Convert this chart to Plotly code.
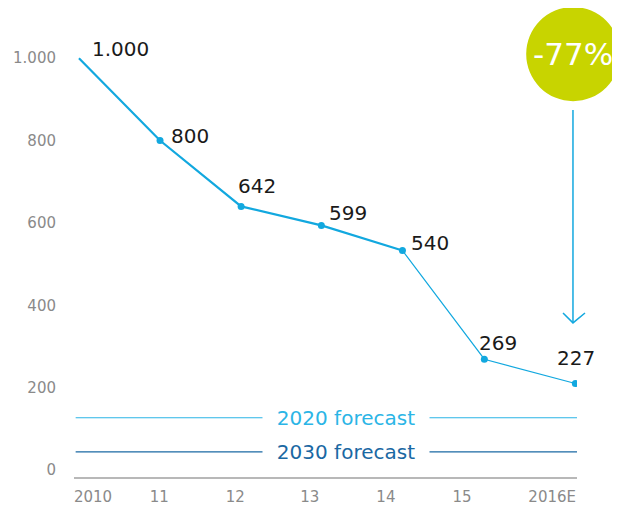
import plotly.graph_objects as go

# data
years = ["2010", "11", "12", "13", "14", "15", "2016E"]
year_pos = [0, 0.98, 1.96, 2.93, 3.91, 4.9, 6.0]  # the last step is a bit wider
values = [1000, 800, 640, 594, 533, 269, 210]
value_labels = ["1.000", "800", "642", "599", "540", "269", "227"]
tick_pos = [0.17, 0.97, 1.89, 2.79, 3.71, 4.63, 5.72]
y_ticks = [0, 200, 400, 600, 800, 1000]
y_tick_text = ["0", "200", "400", "600", "800", "1.000"]
forecasts = ["2020 forecast", "2030 forecast"]
forecast_levels = [127, 44]
reduction = "-77%"

BLUE = "#12a8df"
LIGHT_BLUE = "#2bb5e6"
DARK_BLUE = "#1a68a3"
GREEN = "#c8d400"
FONT = "DejaVu Sans"

# pixel offsets of the value labels (left edge, up from the point)
label_offsets = [(11, 9), (9, 5), (-5, 20), (6, 12), (7, 8), (-7, 16), (-20, 26)]

x = year_pos

fig = go.Figure()
# thicker line up to 2014, thinner after
fig.add_trace(
    go.Scatter(
        x=x[:5], y=values[:5], mode="lines",
        line=dict(color=BLUE, width=2.2),
        hoverinfo="skip", showlegend=False,
    )
)
fig.add_trace(
    go.Scatter(
        x=x[4:], y=values[4:], mode="lines",
        line=dict(color=BLUE, width=1.2),
        hoverinfo="skip", showlegend=False,
    )
)
fig.add_trace(
    go.Scatter(
        x=x[1:], y=values[1:], mode="markers",
        marker=dict(color=BLUE, size=7),
        hoverinfo="y", showlegend=False,
    )
)

for i, (lab, (dx, dy)) in enumerate(zip(value_labels, label_offsets)):
    fig.add_annotation(
        x=x[i], y=values[i], text=lab, showarrow=False,
        xanchor="left", yanchor="middle", xshift=dx, yshift=dy,
        font=dict(family=FONT, size=20, color="#1a1a1a"),
    )

# forecast lines, text sits on top with a white background
for name, level, col in zip(forecasts, forecast_levels, [LIGHT_BLUE, DARK_BLUE]):
    fig.add_shape(type="line", xref="x", yref="y", x0=-0.04, x1=6.05, y0=level, y1=level,
                  line=dict(color=col, width=1.1))
    fig.add_annotation(
        x=3.23, y=level, text=name, showarrow=False,
        xanchor="center", yanchor="middle", bgcolor="white", borderpad=0,
        font=dict(family=FONT, size=20, color=col),
        width=166,
    )

# arrow from the bubble down to the last point (paper coords so it is not clipped)
fig.add_shape(type="line", xref="paper", yref="paper", x0=0.992, x1=0.992, y0=0.798, y1=0.335,
              line=dict(color=BLUE, width=1.5))
fig.add_shape(type="path", xref="paper", yref="paper",
              path="M 0.9722 0.3565 L 0.992 0.335 L 1.0159 0.3565",
              line=dict(color=BLUE, width=1.5))

# green bubble
fig.add_shape(type="circle", xref="paper", yref="paper",
              x0=0.899, x1=1.0855, y0=0.817, y1=1.0217,
              fillcolor=GREEN, line=dict(width=0), layer="above")
fig.add_annotation(
    xref="paper", yref="paper", x=0.993, y=0.9196, text=reduction, showarrow=False,
    xanchor="center", yanchor="middle",
    font=dict(family=FONT, size=31, color="white"),
)

# page body has an 8px margin, so the figure is 8px smaller than the window
fig.update_layout(
    width=612,
    height=500,
    margin=dict(l=66, r=43, t=9, b=31),
    plot_bgcolor="white",
    paper_bgcolor="white",
    font=dict(family=FONT),
    xaxis=dict(
        range=[-0.06, 6.02],
        tickvals=tick_pos,
        ticktext=years,
        showgrid=False,
        zeroline=False,
        showline=True,
        linecolor="#b8b8b8",
        linewidth=2,
        ticks="",
        ticklabelstandoff=5,
        automargin=False,
        tickfont=dict(family=FONT, size=15, color="#8a8a8a"),
    ),
    yaxis=dict(
        range=[-17, 1100],
        tickvals=y_ticks,
        ticktext=y_tick_text,
        showgrid=False,
        zeroline=False,
        showline=False,
        ticks="",
        ticklabelstandoff=17,
        automargin=False,
        tickfont=dict(family=FONT, size=15, color="#8a8a8a"),
    ),
)

fig.write_html("out.html")
